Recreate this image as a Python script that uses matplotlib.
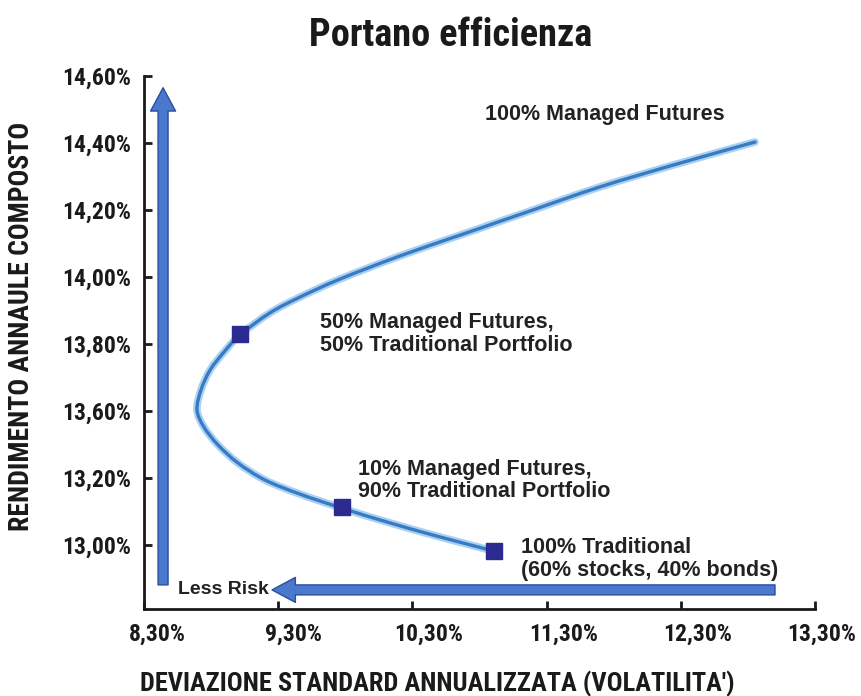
import matplotlib

matplotlib.use("Agg")
import matplotlib.pyplot as plt
import numpy as np
from matplotlib import font_manager
from matplotlib.patches import PathPatch
from matplotlib.path import Path
from matplotlib.transforms import ScaledTranslation

# efficient frontier (std dev %, return %), from 100% traditional to 100% MF
frontier_x = [10.908, 10.506, 10.133, 9.775, 9.462, 9.202, 9.000, 8.851, 8.747, 8.695,
              8.725, 8.792, 8.896, 9.015, 9.239, 9.462, 9.761, 10.208, 10.655, 11.176,
              11.698, 12.294, 12.853]
frontier_y = [13.182, 13.224, 13.266, 13.310, 13.352, 13.394, 13.445, 13.499, 13.552, 13.603,
              13.663, 13.722, 13.776, 13.827, 13.893, 13.940, 13.994, 14.063, 14.125, 14.197,
              14.269, 14.340, 14.403]

marker_x = [9.015, 9.775, 10.908]
marker_y = [13.830, 13.313, 13.182]

xtick_values = [8.3, 9.3, 10.3, 11.3, 12.3, 13.3]
xtick_labels = ["8,30%", "9,30%", "10,30%", "11,30%", "12,30%", "13,30%"]
ytick_values = [13.2, 13.4, 13.6, 13.8, 14.0, 14.2, 14.4, 14.6]
ytick_labels = ["13,00%", "13,20%", "13,60%", "13,80%", "14,00%", "14,20%", "14,40%", "14,60%"]


def smooth_path(xs, ys):
    # Catmull-Rom through the points, handed to matplotlib as cubic Bezier segments
    p = np.column_stack([xs, ys])
    ext = np.vstack([p[0], p, p[-1]])
    verts = [p[0]]
    codes = [Path.MOVETO]
    for i in range(len(p) - 1):
        p0, p1, p2, p3 = ext[i], ext[i + 1], ext[i + 2], ext[i + 3]
        verts += [p1 + (p2 - p0) / 6, p2 - (p3 - p1) / 6, p2]
        codes += [Path.CURVE4] * 3
    return Path(verts, codes)


names = {f.name for f in font_manager.fontManager.ttflist}
condensed = "DejaVu Sans"
for cand in ("Roboto Condensed", "Liberation Sans Narrow", "DejaVu Sans Condensed"):
    if cand in names:
        condensed = cand
        break
label_font = "Liberation Sans" if "Liberation Sans" in names else "DejaVu Sans"

fig = plt.figure(figsize=(8.62, 6.96), dpi=100)
ax = fig.add_axes([144 / 862, 1 - 609 / 696, (815 - 144) / 862, (609 - 76) / 696])
ax.set_xlim(8.3, 13.3)
ax.set_ylim(13.009, 14.6)

for side in ("top", "right"):
    ax.spines[side].set_visible(False)
for side in ("left", "bottom"):
    ax.spines[side].set_linewidth(2)
    ax.spines[side].set_color("#1a1a1a")

ax.set_xticks(xtick_values)
ax.set_xticklabels(xtick_labels, fontfamily=condensed, fontweight="bold", fontsize=17, color="#1a1a1a")
ax.set_yticks(ytick_values)
ax.set_yticklabels(ytick_labels, fontfamily=condensed, fontweight="bold", fontsize=17, color="#1a1a1a")
ax.tick_params(axis="both", direction="in", length=6, width=2, color="#1a1a1a")
ax.tick_params(axis="x", pad=10)
ax.tick_params(axis="y", pad=9)
for lab, dx in zip(ax.get_xticklabels(), [13, 15, 16, 17, 17, 7]):
    lab.set_transform(lab.get_transform() + ScaledTranslation(dx / 100, 0, fig.dpi_scale_trans))

# frontier: light halo under a darker core
curve = smooth_path(frontier_x, frontier_y)
ax.add_patch(PathPatch(curve, fill=False, ec="#a9d2f2", lw=5.5, capstyle="round", zorder=2))
ax.add_patch(PathPatch(curve, fill=False, ec="#3a7ac4", lw=2.4, capstyle="round", zorder=3))
ax.plot(marker_x, marker_y, ls="none", marker="s", markersize=11.5, color="#2a2a90", zorder=4)

arrow_style = "simple,head_width=1.5,head_length=1.4,tail_width=0.6"
ax.annotate("", xy=(8.442, 14.565), xytext=(8.442, 13.081),
            arrowprops=dict(arrowstyle=arrow_style, mutation_scale=12, fc="#4a78cc",
                            ec="#2a4f9e", lw=1, shrinkA=0, shrinkB=0), zorder=5)
ax.annotate("", xy=(9.254, 13.066), xytext=(13.002, 13.066),
            arrowprops=dict(arrowstyle=arrow_style, mutation_scale=12, fc="#4a78cc",
                            ec="#2a4f9e", lw=1, shrinkA=0, shrinkB=0), zorder=5)

txt = dict(fontfamily=label_font, fontweight="bold", fontsize=15.5, color="#222222",
           linespacing=1.1, zorder=6, va="center", ha="left")
ax.text(10.841, 14.484, "100% Managed Futures", **txt)
ax.text(9.611, 13.830, "50% Managed Futures,\n50% Traditional Portfolio", **txt)
ax.text(9.895, 13.393, "10% Managed Futures,\n90% Traditional Portfolio", **txt)
ax.text(11.109, 13.158, "100% Traditional\n(60% stocks, 40% bonds)", **txt)
ax.text(8.55, 13.066, "Less Risk", **{**txt, "fontsize": 14})

fig.text(451 / 862, 1 - 36 / 696, "Portano efficienza", ha="center", va="center",
         fontfamily=condensed, fontweight="bold", fontsize=27.5, color="#1a1a1a")
fig.text(437 / 862, 1 - 684 / 696, "DEVIAZIONE STANDARD ANNUALIZZATA (VOLATILITA')", ha="center",
         va="center", fontfamily=condensed, fontweight="bold", fontsize=19, color="#1a1a1a")
fig.text(22 / 862, 1 - 326 / 696, "RENDIMENTO ANNAULE COMPOSTO", ha="center", va="center",
         rotation=90, fontfamily=condensed, fontweight="bold", fontsize=20, color="#1a1a1a")

fig.savefig("out.png", dpi=100, facecolor="white")
